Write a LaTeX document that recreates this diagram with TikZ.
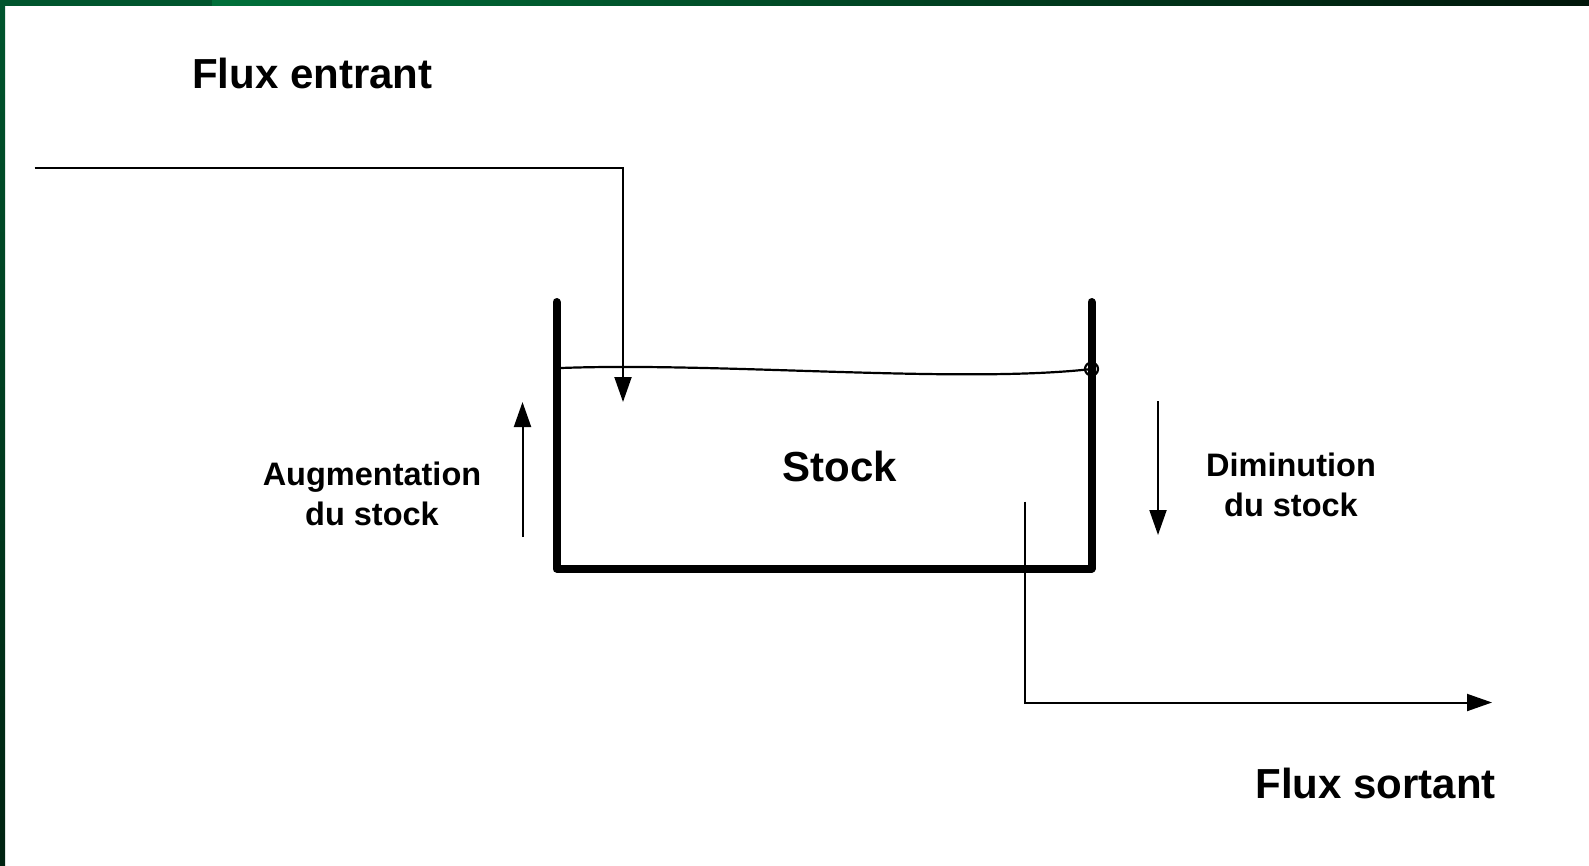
\documentclass[tikz,border=0pt]{standalone}
\usepackage{fontspec}
\setmainfont{Liberation Sans}
\usepackage{tikz}
\usetikzlibrary{arrows.meta,positioning,calc}
\definecolor{framegreen}{RGB}{0, 85, 45}
\definecolor{framelight}{RGB}{0, 112, 58}
\definecolor{framedark}{RGB}{0, 22, 10}

\begin{document}
\begin{tikzpicture}[
    x=1pt, y=-1pt,
    every node/.style={align=center, inner sep=0pt, font=\bfseries},
    bigtext/.style={font=\bfseries\fontsize{42}{48}\selectfont},
    smalltext/.style={font=\bfseries\fontsize{32.5}{39.5}\selectfont},
    flow/.style={draw=black, line width=2pt, -{Triangle[width=17pt, length=25pt]}},
    wall/.style={draw=black, line width=8pt, line cap=round, line join=round},
    surface/.style={draw=black, line width=2.2pt}
]

% page and green frame
\useasboundingbox (0,0) rectangle (1589,865);
\fill[white] (0,0) rectangle (1589,865);
\fill[framegreen] (0,0) rectangle (212,5.5);
\shade[left color=framelight, right color=framedark] (212,0) rectangle (1589,5.5);
\shade[top color=framegreen, bottom color=framedark!80!framegreen] (0,0) rectangle (5,865);

% tank
\coordinate (tank_tl) at (556.5,302);
\coordinate (tank_bl) at (556.5,568.5);
\coordinate (tank_br) at (1091.5,568.5);
\coordinate (tank_tr) at (1091.5,302);
\draw[wall] (tank_tl) -- (tank_bl) -- (tank_br) -- (tank_tr);

% water level
\coordinate (level_l) at (561,368);
\coordinate (level_r) at (1091.5,369);
\draw[surface] (level_l) .. controls (720,362) and (960,384) .. (level_r);
\draw[line width=2.2pt] (level_r) circle (6.5);

% texts
\node[bigtext, anchor=base west] (flux_in) at (192,88) {Flux entrant};
\node[bigtext, anchor=base] (stock) at (840,481) {Stock};
\node[bigtext, anchor=base east] (flux_out) at (1496,798) {Flux sortant};
\node[smalltext] (increase) at (372,494) {Augmentation\\du stock};
\node[smalltext] (decrease) at (1291,485) {Diminution\\du stock};

% incoming flow
\coordinate (in_start) at (34.5,168);
\coordinate (in_corner) at (623,168);
\coordinate (in_end) at (623,402);
\draw[flow] (in_start) -- (in_corner) -- (in_end);

% outgoing flow
\coordinate (out_start) at (1024.5,501.5);
\coordinate (out_corner) at (1024.5,702.5);
\coordinate (out_end) at (1492,702.5);
\draw[flow] (out_start) -- (out_corner) -- (out_end);

% level changes
\coordinate (up_from) at (522.5,537);
\coordinate (up_to) at (522.5,402);
\draw[flow] (up_from) -- (up_to);
\coordinate (down_from) at (1158,401);
\coordinate (down_to) at (1158,535);
\draw[flow] (down_from) -- (down_to);

\end{tikzpicture}
\end{document}
